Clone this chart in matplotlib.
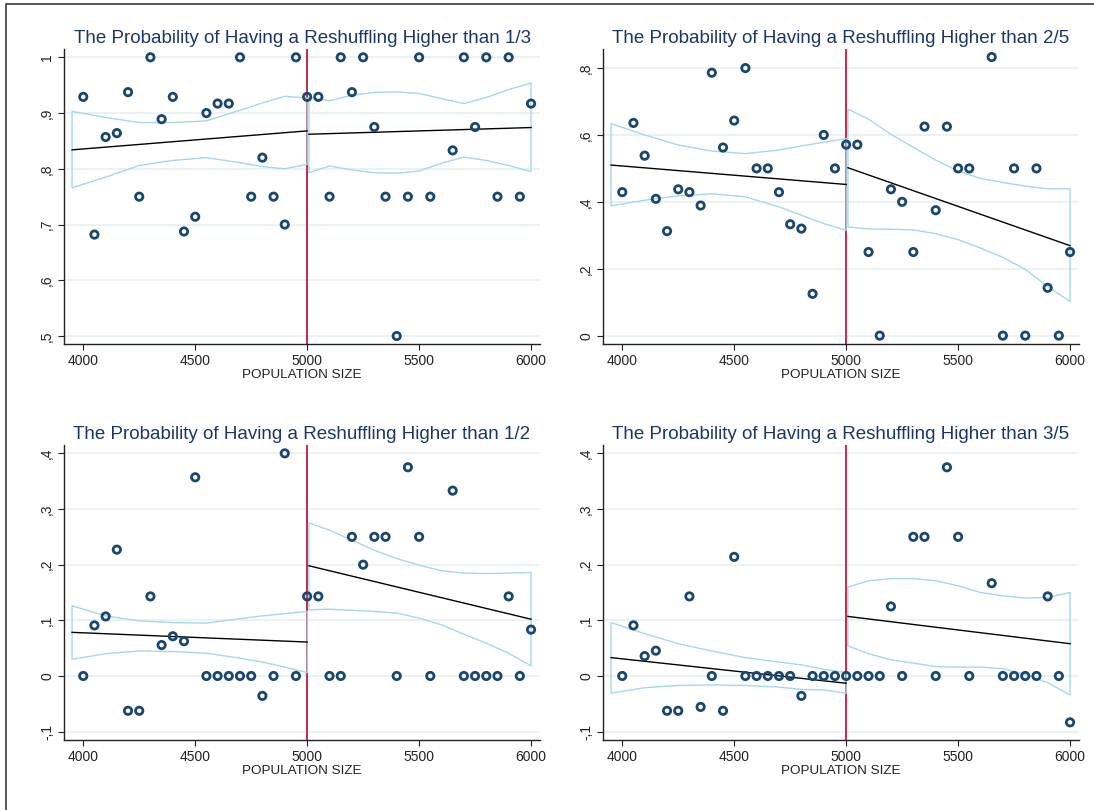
import matplotlib
matplotlib.use("Agg")
import matplotlib.pyplot as plt
from matplotlib.patches import Rectangle

plt.rcParams["font.family"] = ["Liberation Sans", "DejaVu Sans"]

# ---- data -------------------------------------------------------------
population = [4000, 4050, 4100, 4150, 4200, 4250, 4300, 4350, 4400, 4450,
              4500, 4550, 4600, 4650, 4700, 4750, 4800, 4850, 4900, 4950,
              5000, 5050, 5100, 5150, 5200, 5250, 5300, 5350, 5400, 5450,
              5500, 5550, 5650, 5700, 5750, 5800, 5850, 5900, 5950, 6000]

prob_1_3 = [0.929, 0.682, 0.857, 0.864, 0.9375, 0.75, 1.0, 0.889, 0.929, 0.6875,
            0.714, 0.9, 0.917, 0.917, 1.0, 0.75, 0.82, 0.75, 0.7, 1.0,
            0.929, 0.929, 0.75, 1.0, 0.9375, 1.0, 0.875, 0.75, 0.5, 0.75,
            1.0, 0.75, 0.833, 1.0, 0.875, 1.0, 0.75, 1.0, 0.75, 0.917]

prob_2_5 = [0.429, 0.636, 0.538, 0.409, 0.3125, 0.4375, 0.429, 0.389, 0.786, 0.5625,
            0.643, 0.8, 0.5, 0.5, 0.429, 0.333, 0.32, 0.125, 0.6, 0.5,
            0.571, 0.571, 0.25, 0.0, 0.4375, 0.4, 0.25, 0.625, 0.375, 0.625,
            0.5, 0.5, 0.833, 0.0, 0.5, 0.0, 0.5, 0.143, 0.0, 0.25]

prob_1_2 = [0.0, 0.0909, 0.107, 0.227, -0.0625, -0.0625, 0.143, 0.0556, 0.0714, 0.0625,
            0.357, 0.0, 0.0, 0.0, 0.0, 0.0, -0.0357, 0.0, 0.4, 0.0,
            0.143, 0.143, 0.0, 0.0, 0.25, 0.2, 0.25, 0.25, 0.0, 0.375,
            0.25, 0.0, 0.333, 0.0, 0.0, 0.0, 0.0, 0.143, 0.0, 0.0833]

prob_3_5 = [0.0, 0.0909, 0.0357, 0.0455, -0.0625, -0.0625, 0.143, -0.0556, 0.0, -0.0625,
            0.214, 0.0, 0.0, 0.0, 0.0, 0.0, -0.0357, 0.0, 0.0, 0.0,
            0.0, 0.0, 0.0, 0.0, 0.125, 0.0, 0.25, 0.25, 0.0, 0.375,
            0.25, 0.0, 0.1667, 0.0, 0.0, 0.0, 0.0, 0.143, 0.0, -0.0833]

# evaluation points of the fitted lines and confidence bands
band_x_below = [3950, 4100, 4250, 4400, 4550, 4700, 4800, 4900, 5000]
band_x_above = [5008, 5100, 5200, 5300, 5400, 5500, 5600, 5700, 5800, 5900, 6000]
fit_x_below = [3950, 5000]
fit_x_above = [5008, 6000]

fit_1_3_below = [0.834, 0.868]
fit_1_3_above = [0.862, 0.874]
hi_1_3_below = [0.903, 0.892, 0.883, 0.883, 0.886, 0.905, 0.918, 0.930, 0.927]
lo_1_3_below = [0.766, 0.785, 0.806, 0.815, 0.820, 0.811, 0.804, 0.800, 0.808]
hi_1_3_above = [0.928, 0.922, 0.932, 0.937, 0.938, 0.935, 0.926, 0.917, 0.928, 0.942, 0.954]
lo_1_3_above = [0.793, 0.805, 0.798, 0.793, 0.792, 0.796, 0.810, 0.821, 0.815, 0.806, 0.795]

fit_2_5_below = [0.510, 0.452]
fit_2_5_above = [0.502, 0.269]
hi_2_5_below = [0.634, 0.600, 0.570, 0.552, 0.544, 0.555, 0.567, 0.578, 0.589]
lo_2_5_below = [0.388, 0.405, 0.418, 0.424, 0.415, 0.385, 0.360, 0.335, 0.315]
hi_2_5_above = [0.677, 0.647, 0.602, 0.563, 0.525, 0.492, 0.470, 0.458, 0.447, 0.439, 0.439]
lo_2_5_above = [0.325, 0.319, 0.318, 0.316, 0.305, 0.287, 0.262, 0.234, 0.198, 0.147, 0.102]

fit_1_2_below = [0.0784, 0.061]
fit_1_2_above = [0.198, 0.102]
hi_1_2_below = [0.126, 0.108, 0.099, 0.096, 0.095, 0.103, 0.108, 0.112, 0.116]
lo_1_2_below = [0.030, 0.040, 0.045, 0.044, 0.041, 0.032, 0.025, 0.016, 0.006]
hi_1_2_above = [0.275, 0.262, 0.244, 0.226, 0.211, 0.199, 0.189, 0.185, 0.184, 0.185, 0.186]
lo_1_2_above = [0.119, 0.120, 0.118, 0.116, 0.113, 0.104, 0.092, 0.075, 0.059, 0.041, 0.018]

fit_3_5_below = [0.033, -0.013]
fit_3_5_above = [0.107, 0.058]
hi_3_5_below = [0.096, 0.076, 0.058, 0.045, 0.033, 0.025, 0.020, 0.012, 0.006]
lo_3_5_below = [-0.031, -0.021, -0.017, -0.016, -0.017, -0.020, -0.024, -0.025, -0.031]
hi_3_5_above = [0.160, 0.171, 0.175, 0.175, 0.171, 0.162, 0.150, 0.144, 0.140, 0.141, 0.150]
lo_3_5_above = [0.054, 0.040, 0.029, 0.023, 0.017, 0.016, 0.016, 0.013, 0.003, -0.012, -0.034]

titles = ["The Probability of Having a Reshuffling Higher than 1/3",
          "The Probability of Having a Reshuffling Higher than 2/5",
          "The Probability of Having a Reshuffling Higher than 1/2",
          "The Probability of Having a Reshuffling Higher than 3/5"]
x_ticks = [4000, 4500, 5000, 5500, 6000]
y_ticks_1_3 = [0.5, 0.6, 0.7, 0.8, 0.9, 1.0]
y_ticks_2_5 = [0.0, 0.2, 0.4, 0.6, 0.8]
y_ticks_low = [-0.1, 0.0, 0.1, 0.2, 0.3, 0.4]
cutoff = 5000
x_label = "POPULATION SIZE"

# ---- styling ----------------------------------------------------------
W, H = 1094, 810
NAVY = "#1a476f"
TITLE_C = "#1c3766"
BAND_C = "#a6d8e8"
GRID_C = "#e8f1f3"
CUT_C = "#c8163c"


def comma_label(v):
    if abs(v) < 1e-9:
        return "0"
    if abs(v - round(v)) < 1e-9:
        return str(int(round(v)))
    s = f"{v:.1f}"
    s = s.replace("0.", ".")
    return s.replace(".", ",")


def axes_px(left, top, right, bottom):
    return [left / W, 1 - bottom / H, (right - left) / W, (bottom - top) / H]


fig = plt.figure(figsize=(W / 100, H / 100), dpi=100)
fig.patch.set_facecolor("white")
fig.add_artist(Rectangle((6 / W, -0.1), 1.2, 1.1 - 4 / H,
                         transform=fig.transFigure, fill=False,
                         edgecolor="#3a3a3a", linewidth=1.2))

panels = [
    (axes_px(64, 49, 540, 344), prob_1_3, y_ticks_1_3, (0.4857, 1.0149),
     (fit_1_3_below, fit_1_3_above), (hi_1_3_below, lo_1_3_below, hi_1_3_above, lo_1_3_above)),
    (axes_px(603, 49, 1079, 344), prob_2_5, y_ticks_2_5, (-0.025, 0.857),
     (fit_2_5_below, fit_2_5_above), (hi_2_5_below, lo_2_5_below, hi_2_5_above, lo_2_5_above)),
    (axes_px(64, 445, 540, 740), prob_1_2, y_ticks_low, (-0.115, 0.415),
     (fit_1_2_below, fit_1_2_above), (hi_1_2_below, lo_1_2_below, hi_1_2_above, lo_1_2_above)),
    (axes_px(603, 445, 1079, 740), prob_3_5, y_ticks_low, (-0.115, 0.415),
     (fit_3_5_below, fit_3_5_above), (hi_3_5_below, lo_3_5_below, hi_3_5_above, lo_3_5_above)),
]

for title, (rect, yvals, yticks, ylim, fits, bands) in zip(titles, panels):
    ax = fig.add_axes(rect)
    ax.set_xlim(3914, 6040)
    ax.set_ylim(*ylim)

    for t in yticks:
        ax.axhline(t, color=GRID_C, linewidth=1.3, zorder=0)

    ax.axvline(cutoff, color=CUT_C, linewidth=1.3, zorder=1)

    hi_b, lo_b, hi_a, lo_a = bands
    for bx, hi, lo in ((band_x_below, hi_b, lo_b), (band_x_above, hi_a, lo_a)):
        ax.fill_between(bx, lo, hi, facecolor="none", edgecolor=BAND_C,
                        linewidth=1.0, zorder=2)

    ax.plot(fit_x_below, fits[0], color="black", linewidth=1.0, zorder=3)
    ax.plot(fit_x_above, fits[1], color="black", linewidth=1.0, zorder=3)

    ax.scatter(population, yvals, s=28, facecolors="none", edgecolors=NAVY,
               linewidths=2.0, zorder=4)

    ax.set_xticks(x_ticks)
    ax.set_xticklabels([str(v) for v in x_ticks])
    ax.set_yticks(yticks)
    ax.set_yticklabels([comma_label(v) for v in yticks], rotation=90, va="center")
    ax.tick_params(axis="both", direction="out", length=4, width=0.8,
                   labelsize=10, colors="#222222", pad=3)
    for side in ("top", "right"):
        ax.spines[side].set_visible(False)
    for side in ("left", "bottom"):
        ax.spines[side].set_linewidth(1.0)
        ax.spines[side].set_color("#222222")

    ax.set_title(title, fontsize=13.5, color=TITLE_C, pad=4)
    ax.set_xlabel(x_label, fontsize=9.7, color="#222222", labelpad=1)

fig.savefig("out.png", dpi=100, facecolor="white")
